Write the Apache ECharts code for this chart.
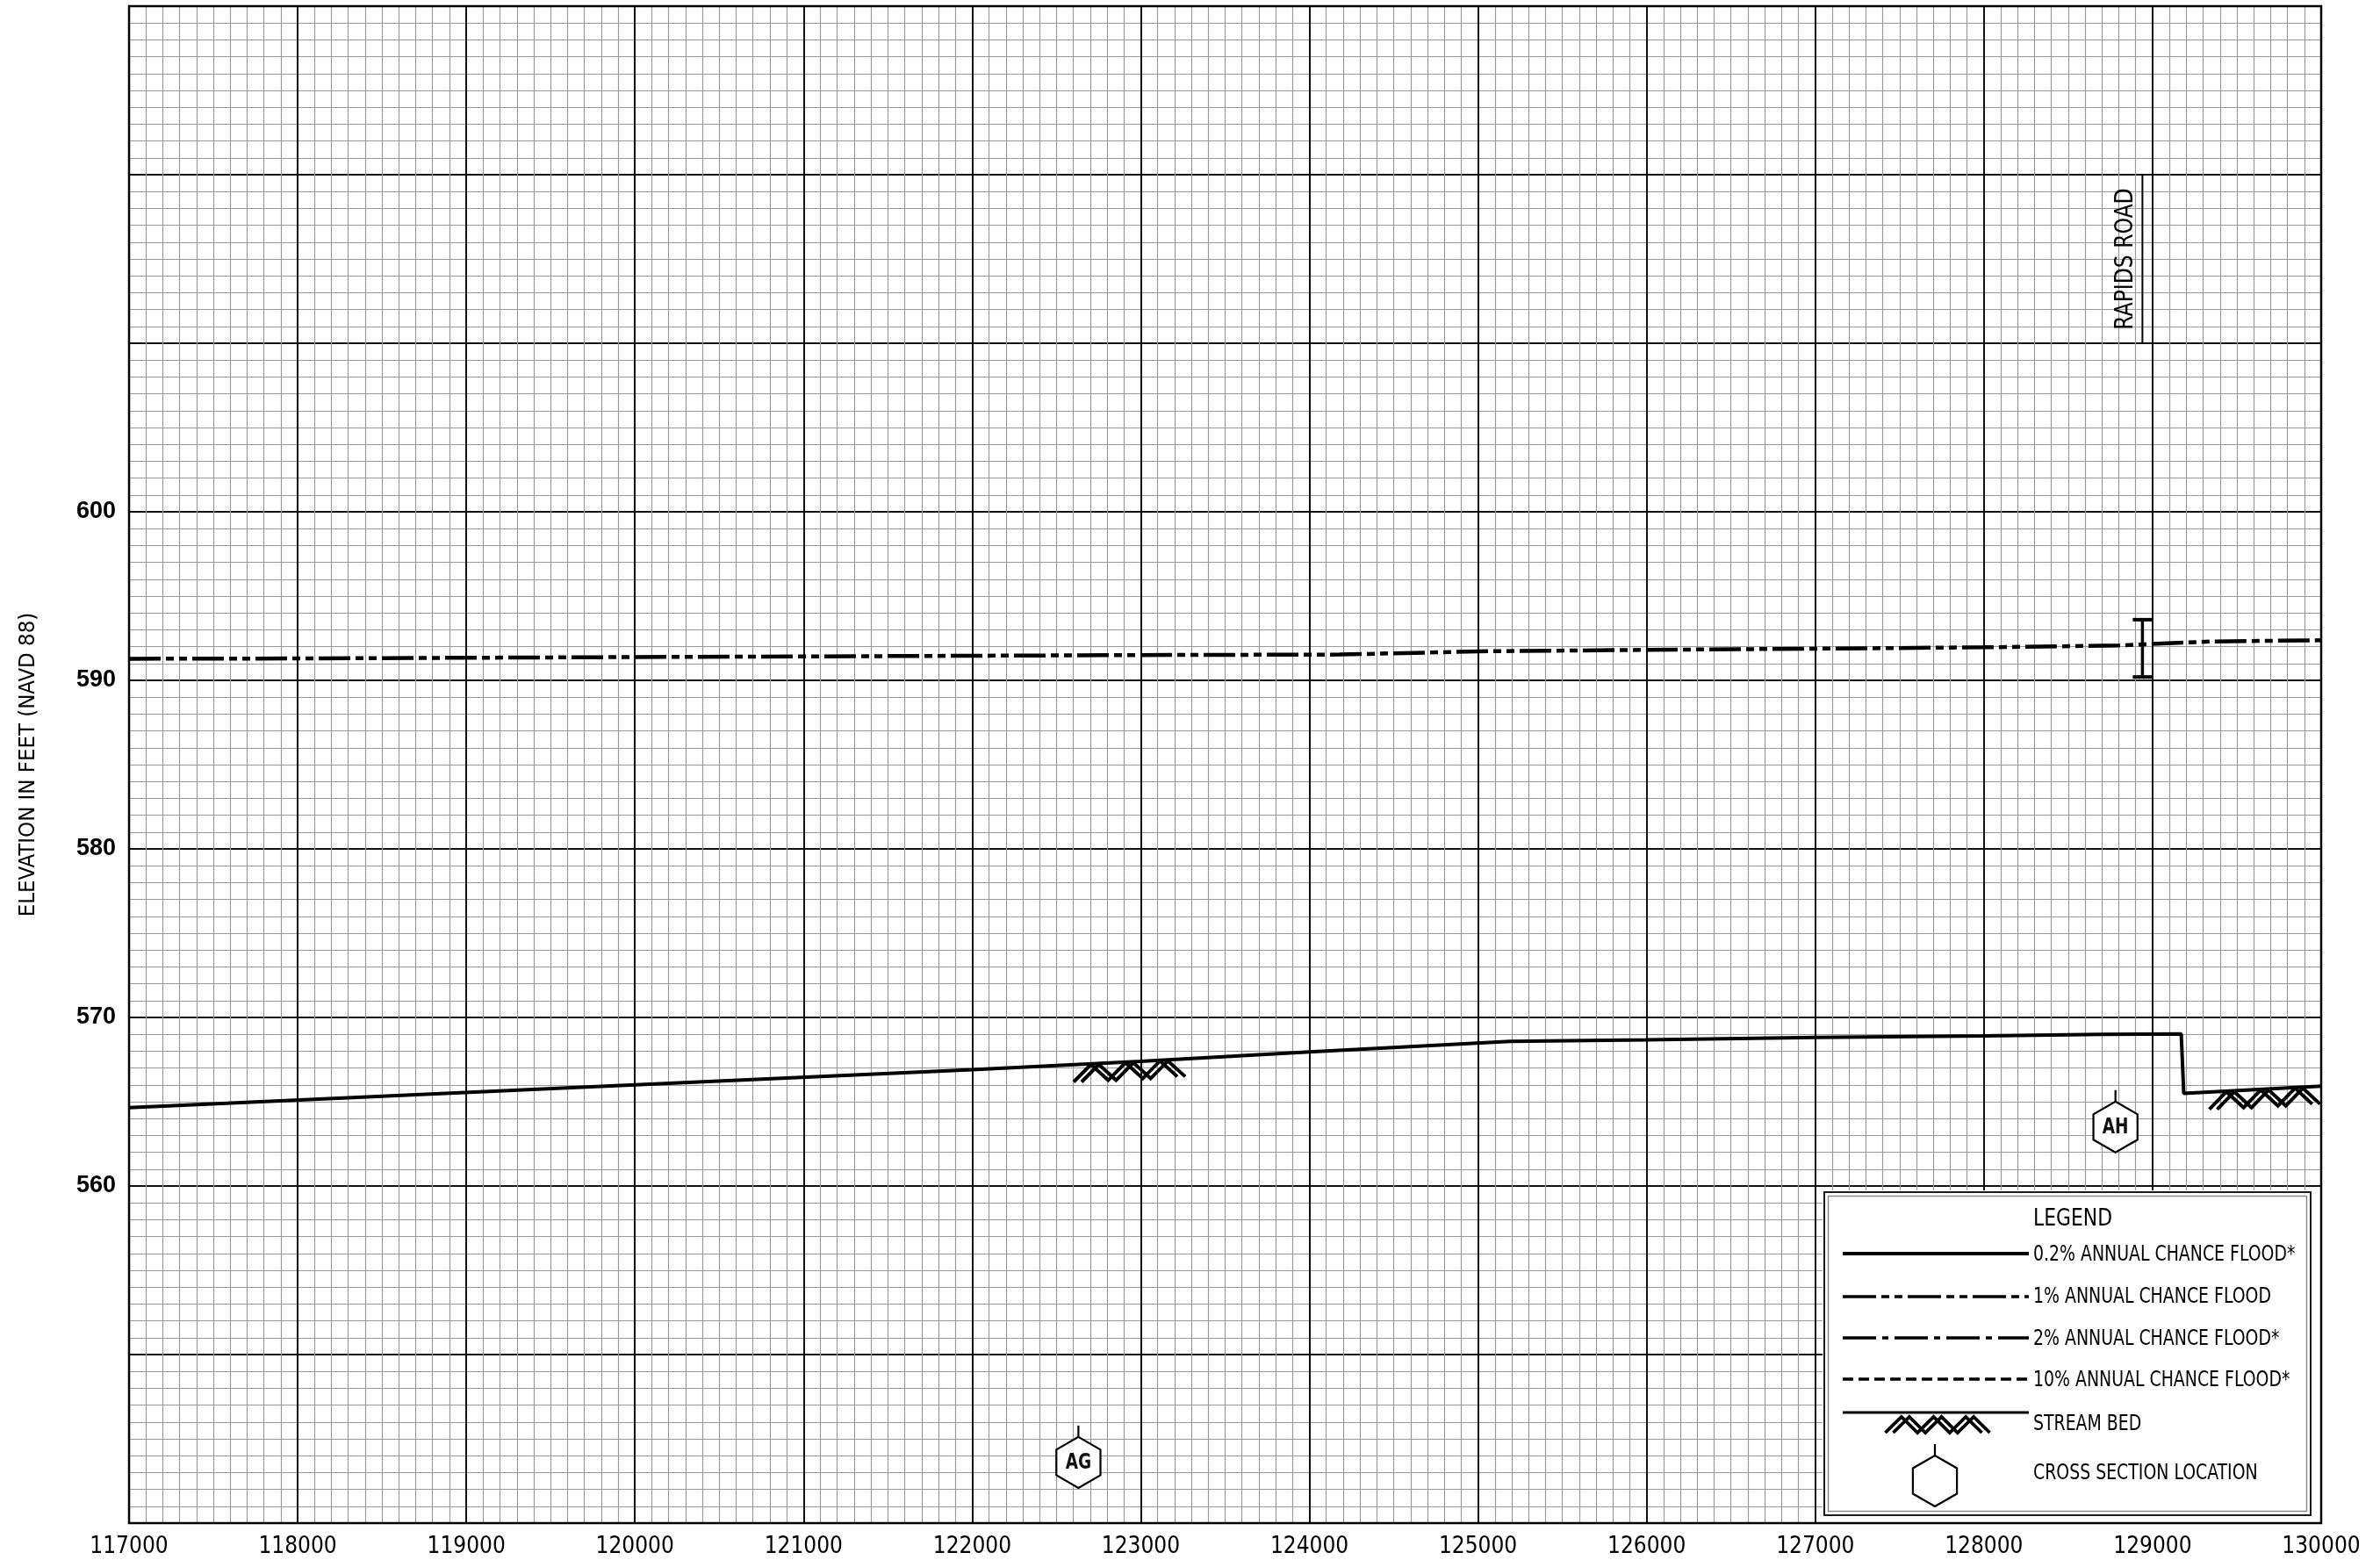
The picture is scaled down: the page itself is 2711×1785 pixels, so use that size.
<!DOCTYPE html>
<html><head><meta charset="utf-8">
<script src="https://cdn.jsdelivr.net/npm/echarts@6/dist/echarts.min.js"></script>
<style>html,body{margin:0;padding:0;background:#fff}#c{width:2711px;height:1785px}</style>
</head><body><div id="c"></div>
<script>
const NARROW = '"DejaVu Sans Condensed","Liberation Sans Narrow",sans-serif';
const xTickLabels = [117000,118000,119000,120000,121000,122000,123000,124000,125000,126000,127000,128000,129000,130000];
const yTickLabels = [560,570,580,590,600];
// Stream bed profile
const bedX = [117000,120000,122000,123000,124000,125190,126000,127000,128000,128700,129170,129185,130000];
const bedY = [564.65,566.0,566.9,567.4,567.95,568.58,568.67,568.82,568.9,569.0,569.02,565.5,565.92];
// 1% annual chance flood profile
const floodX = [117000,118000,119000,120000,121000,122000,123000,124180,125000,126000,127000,128000,128800,128950,129360,130000];
const floodY = [591.28,591.3,591.34,591.38,591.42,591.46,591.5,591.53,591.72,591.81,591.88,591.96,592.07,592.14,592.31,592.38];
// stream bed hatch ranges
const hatchStart = [122625,129360];
const hatchEnd = [123240,129970];
// bridge (I-beam)
const bridgeX = [128940];
const bridgeLow = [590.2];
const bridgeHigh = [593.6];
// road
const roadX = [128940];
const roadLow = [610];
const roadHigh = [620];
const roadNames = ['RAPIDS ROAD'];
// cross sections
const sectionX = [122630,128780];
const sectionY = [543.6,563.5];
const sectionNames = ['AG','AH'];
const legendLabels = ['0.2% ANNUAL CHANCE FLOOD*','1% ANNUAL CHANCE FLOOD','2% ANNUAL CHANCE FLOOD*','10% ANNUAL CHANCE FLOOD*','STREAM BED','CROSS SECTION LOCATION'];

function bedAt(x){
  for(let i=0;i<bedX.length-1;i++){
    if(x>=bedX[i] && x<=bedX[i+1]){
      const t=(x-bedX[i])/(bedX[i+1]-bedX[i]);
      return bedY[i]+t*(bedY[i+1]-bedY[i]);
    }
  }
  return bedY[bedY.length-1];
}
function zig(pts, dx, lw){
  return [-dx,dx].map(o=>({type:'polyline',shape:{points:pts.map(p=>[p[0]+o,p[1]])},style:{stroke:'#000',lineWidth:lw,fill:null,lineJoin:'miter'}}));
}
function hexagon(cx, cy, r, label){
  const pts=[];
  for(let k=0;k<6;k++){const a=(-90+60*k)*Math.PI/180; pts.push([cx+r*Math.cos(a), cy+r*Math.sin(a)]);}
  const ch=[
    {type:'polygon',shape:{points:pts},style:{stroke:'#000',lineWidth:2.2,fill:'#fff'}},
    {type:'line',shape:{x1:cx,y1:cy-r,x2:cx,y2:cy-r-13},style:{stroke:'#000',lineWidth:2.2}}
  ];
  if(label) ch.push({type:'text',x:cx,y:cy+1,scaleX:0.82,style:{text:label,font:'bold 25px '+NARROW,fill:'#111',align:'center',verticalAlign:'middle'}});
  return ch;
}

const chart = echarts.init(document.getElementById('c'), null, {renderer:'canvas'});
const L = 147, R = 2644, T = 7, B = 1735;

const legendGraphics = [];
legendGraphics.push({type:'rect',z:100,shape:{x:2076,y:1356,width:R-2076,height:B-1356},style:{fill:'#fff'}});
legendGraphics.push({type:'rect',z:101,shape:{x:2078,y:1358,width:554,height:368},style:{fill:null,stroke:'#1a1a1a',lineWidth:2}});
legendGraphics.push({type:'rect',z:101,shape:{x:2082.5,y:1362.5,width:545,height:359},style:{fill:null,stroke:'#8a8a8a',lineWidth:1.5}});
legendGraphics.push({type:'text',z:102,x:2361,y:1389,scaleX:0.9,style:{text:'LEGEND',font:'27px '+NARROW,fill:'#000',align:'center',verticalAlign:'middle'}});
const rowY=[1429,1477,1525,1572,1622,1678];
const lineY=[1428,1477,1524,1571,1609];
const dashes=[null,[38,6,9,6,9,6],[38,7,7,7],[12,6],null];
const widths=[4,3.5,3.5,3.5,3];
for(let i=0;i<5;i++){
  legendGraphics.push({type:'line',z:102,shape:{x1:2099,y1:lineY[i],x2:2311,y2:lineY[i]},style:{stroke:'#000',lineWidth:widths[i],lineDash:dashes[i]}});
}
for(let i=0;i<6;i++){
  legendGraphics.push({type:'text',z:102,x:2316,y:rowY[i],scaleX:0.84,style:{text:legendLabels[i],font:'25px '+NARROW,fill:'#000',align:'left',verticalAlign:'middle'}});
}
(function(){
  const x0=2152,x1=2262,top=1614,depth=18,pts=[];
  for(let i=0;i<=6;i++){pts.push([x0+(x1-x0)*i/6, i%2? top: top+depth]);}
  zig(pts,4.5,3.8).forEach(e=>{e.z=102;legendGraphics.push(e);});
  hexagon(2204,1687,29,null).forEach(e=>{e.z=102;legendGraphics.push(e);});
})();
legendGraphics.push({type:'rect',z:110,shape:{x:L,y:T,width:R-L,height:B-T},style:{fill:null,stroke:'#000',lineWidth:2.5}});

const option = {
  animation:false,
  backgroundColor:'#fff',
  grid:{left:L,right:2711-R,top:T,bottom:1785-B,containLabel:false},
  xAxis:{
    type:'value',min:117000,max:130000,interval:1000,
    axisLine:{show:true,lineStyle:{color:'#000',width:2}},
    axisTick:{show:false},
    axisLabel:{margin:14,fontSize:26,fontFamily:NARROW,color:'#000',
      formatter:v=>xTickLabels.indexOf(v)>=0?String(v):''},
    splitLine:{show:true,lineStyle:{color:'#111',width:2}},
    minorTick:{show:false,splitNumber:10},
    minorSplitLine:{show:true,lineStyle:{color:'#9a9a9a',width:1.2}}
  },
  yAxis:{
    type:'value',min:540,max:630,interval:10,
    name:'ELEVATION IN FEET (NAVD 88)',nameLocation:'middle',nameGap:102,nameRotate:90,
    nameTextStyle:{fontSize:25.5,fontFamily:NARROW,color:'#000'},
    axisLine:{show:true,lineStyle:{color:'#000',width:2}},
    axisTick:{show:false},
    axisLabel:{margin:15,fontSize:27,fontWeight:'bold',fontFamily:'"Liberation Sans",Arial,sans-serif',color:'#000',
      formatter:v=>yTickLabels.indexOf(v)>=0?String(v):''},
    splitLine:{show:true,lineStyle:{color:'#111',width:2}},
    minorTick:{show:false,splitNumber:10},
    minorSplitLine:{show:true,lineStyle:{color:'#9a9a9a',width:1.2}}
  },
  graphic:legendGraphics,
  series:[
    {type:'line',name:'1% ANNUAL CHANCE FLOOD',data:floodX.map((x,i)=>[x,floodY[i]]),showSymbol:false,
      lineStyle:{color:'#000',width:4.5,type:[36,6,9,6,9,6]},z:5},
    {type:'line',name:'STREAM BED',data:bedX.map((x,i)=>[x,bedY[i]]),showSymbol:false,
      lineStyle:{color:'#000',width:4},z:5},
    {type:'custom',name:'hatch',data:hatchStart.map((s,i)=>[s,hatchEnd[i]]),z:6,clip:false,
      renderItem:(params,api)=>{
        const x0=api.value(0),x1=api.value(1),pts=[];
        for(let i=0;i<=6;i++){
          const xv=x0+(x1-x0)*i/6; const p=api.coord([xv,bedAt(xv)]);
          pts.push([p[0], i%2? p[1]+1 : p[1]+20]);
        }
        return {type:'group',children:zig(pts,4.5,4)};
      }},
    {type:'custom',name:'bridge',data:bridgeX.map((x,i)=>[x,bridgeLow[i],bridgeHigh[i]]),z:6,
      renderItem:(params,api)=>{
        const a=api.coord([api.value(0),api.value(1)]),b=api.coord([api.value(0),api.value(2)]);
        return {type:'group',children:[
          {type:'line',shape:{x1:a[0],y1:a[1],x2:b[0],y2:b[1]},style:{stroke:'#000',lineWidth:3.5}},
          {type:'line',shape:{x1:a[0]-11,y1:a[1],x2:a[0]+11,y2:a[1]},style:{stroke:'#000',lineWidth:4}},
          {type:'line',shape:{x1:b[0]-11,y1:b[1],x2:b[0]+11,y2:b[1]},style:{stroke:'#000',lineWidth:4}}
        ]};
      }},
    {type:'custom',name:'road',data:roadX.map((x,i)=>[x,roadLow[i],roadHigh[i]]),z:6,
      renderItem:(params,api)=>{
        const a=api.coord([api.value(0),api.value(1)]),b=api.coord([api.value(0),api.value(2)]);
        return {type:'group',children:[
          {type:'line',shape:{x1:a[0],y1:a[1],x2:b[0],y2:b[1]},style:{stroke:'#000',lineWidth:2}},
          {type:'text',x:a[0]-19,y:(a[1]+b[1])/2,rotation:Math.PI/2,scaleX:0.9,
            style:{text:roadNames[params.dataIndex],font:'29px '+NARROW,fill:'#000',align:'center',verticalAlign:'middle'}}
        ]};
      }},
    {type:'custom',name:'sections',data:sectionX.map((x,i)=>[x,sectionY[i]]),z:6,
      renderItem:(params,api)=>{
        const p=api.coord([api.value(0),api.value(1)]);
        return {type:'group',children:hexagon(p[0],p[1],29,sectionNames[params.dataIndex])};
      }}
  ]
};
chart.setOption(option);
</script>
</body></html>
